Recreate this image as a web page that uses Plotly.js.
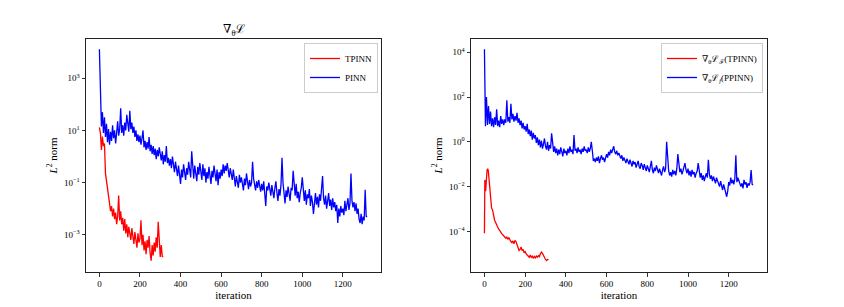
<!DOCTYPE html>
<html>
<head>
<meta charset="utf-8">
<script src="https://cdn.plot.ly/plotly-3.0.1.min.js"></script>
<style>html,body{margin:0;padding:0;background:#fff;}#chart{width:844px;height:307px;}</style>
</head>
<body>
<div id="chart"></div>
<script>
// ---------- DATA (log10 of the L2 norm) ----------
var pinnStep = 5; // iterations between samples
var pinnLeftLog10 = [
  4.11, 1.95, 1.15, 1.7, 0.9, 1.5, 0.75, 1.25, 0.55, 1.05,
  0.45, 0.95, 0.6, 1.2, 0.7, 1.0, 0.5, 0.9, 1.35, 0.8,
  1.05, 1.85, 0.9, 1.2, 0.8, 1.3, 1.0, 1.6, 1.1, 0.95,
  1.75, 1.05, 1.3, 0.9, 1.15, 0.75, 1.0, 0.6, 0.85, 0.55,
  0.8, 0.45, 0.7, 1.0, 0.35, 0.6, 0.25, 0.55, 0.3, 0.75,
  0.2, 0.45, 0.1, 0.4, 0.05, 0.3, -0.1, 0.25, 0.0, 0.35,
  0.1, -0.15, 0.2, -0.3, 0.05, -0.2, 0.4, -0.25, -0.05, -0.35,
  -0.1, -0.45, 0.0, -0.3, -0.6, -0.2, -0.5, -0.75, -0.35, -0.65,
  -1.05, -0.5, -0.8, -0.3, -0.65, -0.9, -0.45, -0.7, -0.2, -0.55,
  -0.8, 0.2, -0.5, -0.85, -0.35, -0.6, -0.95, -0.4, -0.7, -0.25,
  -0.55, -0.9, -0.3, -0.75, -0.45, -1.0, -0.6, -0.85, -0.4, -0.7,
  -1.05, -0.55, -0.8, -0.35, -0.65, -0.95, -0.5, -1.1, -0.6, -0.85,
  -0.5, -0.75, -0.3, -0.65, -0.35, -0.55, -0.25, -0.6, -0.8, -0.45,
  -0.7, -0.9, -0.5, -0.85, -1.15, -0.75, -0.95, -1.2, -0.7, -1.0,
  -0.8, -1.05, -1.3, -0.85, -1.1, -0.65, -0.95, -1.25, -0.9, -1.15,
  -1.0, -0.2, -0.85, -1.1, -1.3, -0.95, -1.2, -0.9, -1.15, -1.35,
  -1.05, -1.3, -0.95, -1.35, -1.9, -1.15, -1.3, -1.0, -1.25, -1.5,
  -1.1, -1.35, -1.6, -1.2, -0.95, -1.4, -1.7, -1.25, -1.5, -1.1,
  -0.05, -1.0, -1.45, -1.8, -1.3, -1.55, -1.15, -1.4, -1.7, -1.2,
  -1.3, -0.55, -1.25, -1.5, -1.05, -1.6, -1.35, -1.75, -1.4, -1.2,
  -0.8, -1.5, -1.7, -1.3, -1.85, -1.45, -1.6, -1.25, -1.9, -1.5,
  -1.75, -2.2, -1.6, -1.4, -1.85, -1.55, -1.95, -1.45, -1.7, -1.3,
  -0.75, -1.6, -1.85, -1.5, -2.0, -1.7, -1.4, -1.9, -1.65, -2.05,
  -1.6, -1.95, -1.75, -2.1, -1.85, -2.55, -2.0, -2.3, -1.9, -2.15,
  -2.0, -2.25, -1.7, -2.1, -1.85, -1.6, -2.05, -1.8, -0.65, -1.7,
  -1.95, -1.75, -2.1, -1.8, -2.2, -2.0, -2.4, -2.55, -2.2, -2.6,
  -2.3, -2.45, -1.28, -2.3, -2.32
];
var tpinnLeftLog10 = [
  1.12, 0.9, 0.25, 0.76, 0.4, 0.5, -0.65, -0.9, -1.15, -1.5,
  -1.8, -2.1, -1.9, -2.3, -2.0, -2.4, -2.15, -2.6, -2.3, -1.5,
  -2.45, -2.1, -2.6, -2.35, -2.85, -2.4, -2.95, -2.6, -3.1, -2.7,
  -2.9, -3.2, -2.75, -3.05, -3.35, -2.9, -3.2, -3.5, -2.95, -3.3,
  -3.15, -2.45, -3.4, -3.0, -3.6, -3.25, -3.75, -3.2, -3.5, -3.05,
  -3.7, -4.0, -3.4, -3.8, -3.3, -3.65, -3.1, -3.5, -2.5, -3.3,
  -3.85, -3.4, -3.84, -3.84
];
var ppinnRightLog10 = [
  4.13, 0.7, 2.0, 0.75, 1.6, 0.8, 1.35, 0.7, 1.05, 0.65,
  1.1, 0.75, 1.45, 0.7, 0.95, 0.65, 1.15, 0.8, 1.0, 0.75,
  1.0, 0.85, 1.85, 0.9, 1.1, 0.85, 1.7, 1.0, 1.25, 0.9,
  1.15, 0.95, 1.3, 0.85, 1.05, 0.75, 0.95, 0.6, 0.85, 0.55,
  0.7, 0.45, 0.8, 0.35, 0.55, 0.25, 0.5, 0.1, 0.4, 0.15,
  0.3, -0.05, 0.2, -0.15, 0.1, -0.25, 0.05, -0.3, -0.1, 0.15,
  -0.2, -0.35, 0.0, -0.4, -0.15, -0.3, 0.38, -0.25, -0.45, -0.2,
  -0.5, -0.3, -0.6, -0.35, -0.55, -0.25, -0.45, -0.65, -0.3, -0.5,
  -0.4, -0.6, -0.3, -0.5, -0.2, -0.45, -0.35, -0.55, 0.3, -0.4,
  -0.3, -0.5, -0.25, -0.45, -0.35, -0.55, -0.3, -0.45, -0.2, -0.4,
  -0.35, -0.5, -0.25, -0.45, -0.3, 0.0, -0.4, -0.85, -0.75, -0.9,
  -0.7, -0.85, -0.65, -0.95, -0.75, -0.6, -0.8, -0.7, -0.9, -0.65,
  -0.55, -0.7, -0.45, -0.6, -0.35, -0.5, -0.3, -0.2, -0.45, -0.55,
  -0.4, -0.6, -0.5, -0.7, -0.75, -0.6, -0.85, -0.7, -0.8, -0.95,
  -0.75, -0.9, -1.0, -0.8, -0.95, -1.1, -0.85, -1.0, -0.9, -1.15,
  -1.0, -0.85, -1.1, -1.2, -0.95, -1.05, -1.25, -1.0, -1.15, -1.3,
  -1.05, -1.2, -1.35, -1.1, -0.85, -1.25, -1.4, -1.15, -1.3, -1.05,
  -1.25, -1.4, -1.2, -1.35, -1.5, -1.25, -1.1, -1.35, -1.2, 0.0,
  -1.0, -1.3, -1.5, -1.35, -1.55, -1.25, -1.45, -1.3, -1.5, -1.2,
  -0.55, -1.15, -1.35, -1.2, -1.45, -1.3, -1.05, -0.95, -1.25, -1.4,
  -1.2, -1.5, -1.3, -1.55, -1.25, -1.45, -1.35, -1.6, -1.4, -1.3,
  -0.95, -1.45, -1.6, -1.4, -1.7, -1.5, -1.75, -1.55, -1.4, -1.6,
  -0.8, -1.45, -1.65, -1.5, -1.75, -1.55, -1.7, -1.85, -1.6, -1.75,
  -1.8, -2.0, -1.75, -1.95, -2.15, -1.9, -2.05, -2.3, -2.45, -2.2,
  -1.8, -1.95, -1.6, -1.85, -1.7, -1.9, -1.65, -0.6, -1.8, -1.6,
  -1.75, -1.9, -2.0, -1.85, -2.08, -1.7, -1.9, -1.8, -2.05, -1.85,
  -1.95, -1.8, -1.26, -1.9, -1.92
];
var tpinnRightIter = [
  0, 2, 4, 6, 8, 10,
  13, 16, 19, 22, 25, 28, 31,
  35, 40, 45, 50, 55, 60, 65, 70, 75, 80, 85, 90, 95,
  100, 105, 110, 115, 120, 125, 130, 135, 140, 145,
  150, 155, 160, 165, 170, 175, 180, 185, 190, 195,
  200, 205, 210, 215, 220, 225, 230, 235, 240, 245,
  250, 255, 260, 265, 270, 275, 280, 285, 290, 295,
  300, 305, 310, 315
];
var tpinnRightLog10 = [
  -4.08, -1.7, -1.9, -2.2, -1.8, -1.5,
  -1.25, -1.2, -1.3, -1.6, -1.9, -2.3, -2.7,
  -2.95, -3.05, -3.3, -3.5, -3.6, -3.7, -3.85, -3.9, -3.95, -4.05, -4.1, -4.15, -4.2,
  -4.22, -4.3, -4.25, -4.35, -4.28, -4.38, -4.45, -4.5, -4.42, -4.55,
  -4.4, -4.45, -4.6, -4.75, -4.85, -4.8, -4.7, -4.85, -4.8, -4.95,
  -4.9, -5.0, -5.05, -5.1, -5.15, -5.05, -5.15, -5.1, -5.2, -5.12,
  -5.18, -5.1, -5.15, -5.08, -5.12, -5.0, -4.92, -4.98, -5.1, -5.2,
  -5.25, -5.3, -5.25, -5.26
];
var xTickVals = [0, 200, 400, 600, 800, 1000, 1200];
var xTickText = ["0", "200", "400", "600", "800", "1000", "1200"];
var yLeftTickVals = [1e-3, 1e-1, 1e1, 1e3];
var yLeftTickText = ["10<sup>\u22123</sup>", "10<sup>\u22121</sup>", "10<sup>1</sup>", "10<sup>3</sup>"];
var yRightTickVals = [1e-4, 1e-2, 1e0, 1e2, 1e4];
var yRightTickText = ["10<sup>\u22124</sup>", "10<sup>\u22122</sup>", "10<sup>0</sup>", "10<sup>2</sup>", "10<sup>4</sup>"];
var leftNames = ["TPINN", "PINN"];
var rightNames = ["\u2207<sub>\u03b8</sub>\u2112<sub>\u2131</sub>(TPINN)", "\u2207<sub>\u03b8</sub>\u2112<sub><i>f</i></sub>(PPINN)"];
var leftTitle = "\u2207<sub>\u03b8</sub>\u2112";

// ---------- helpers ----------
function iters(arr, step) { return arr.map(function (_, i) { return i * step; }); }
function fromLog(arr) { return arr.map(function (v) { return Math.pow(10, v); }); }

var FONT = "Liberation Serif, DejaVu Serif, serif";
var RED = "rgb(255,0,0)", BLUE = "rgb(0,0,255)";
var LW = 1.3;

var traces = [
  { x: iters(tpinnLeftLog10, pinnStep), y: fromLog(tpinnLeftLog10), type: "scatter", mode: "lines",
    name: leftNames[0], line: { color: RED, width: LW }, xaxis: "x", yaxis: "y", legend: "legend" },
  { x: iters(pinnLeftLog10, pinnStep), y: fromLog(pinnLeftLog10), type: "scatter", mode: "lines",
    name: leftNames[1], line: { color: BLUE, width: LW }, xaxis: "x", yaxis: "y", legend: "legend" },
  { x: tpinnRightIter, y: fromLog(tpinnRightLog10), type: "scatter", mode: "lines",
    name: rightNames[0], line: { color: RED, width: LW }, xaxis: "x2", yaxis: "y2", legend: "legend2" },
  { x: iters(ppinnRightLog10, pinnStep), y: fromLog(ppinnRightLog10), type: "scatter", mode: "lines",
    name: rightNames[1], line: { color: BLUE, width: LW }, xaxis: "x2", yaxis: "y2", legend: "legend2" }
];

function xAxis(domain, anchor) {
  return {
    domain: domain, anchor: anchor, range: [-66, 1388], tickvals: xTickVals, ticktext: xTickText,
    ticks: "outside", ticklen: 3.5, tickwidth: 0.8, tickcolor: "#000",
    showline: true, linecolor: "#222", linewidth: 1, mirror: true, showgrid: false, zeroline: false,
    tickfont: { family: FONT, size: 9, color: "#000" },
    title: { text: "iteration", font: { family: FONT, size: 11, color: "#000" }, standoff: 2 }
  };
}
function yAxis(domain, anchor, range, tv, tt) {
  return {
    domain: domain, anchor: anchor, type: "log", range: range, tickvals: tv, ticktext: tt,
    ticks: "outside", ticklen: 3.5, tickwidth: 0.8, tickcolor: "#000",
    showline: true, linecolor: "#222", linewidth: 1, mirror: true, showgrid: false, zeroline: false,
    tickfont: { family: FONT, size: 9, color: "#000" },
    title: { text: "<i>L</i><sup>2</sup> norm", font: { family: FONT, size: 11, color: "#000" }, standoff: 4 }
  };
}

var yDom = [1 - 272 / 307, 1 - 39 / 307];
var legendCommon = {
  xanchor: "right", yanchor: "top",
  bgcolor: "rgba(255,255,255,0.8)", bordercolor: "#ccc", borderwidth: 1,
  font: { family: FONT, size: 9, color: "#000" }, itemwidth: 30, tracegroupgap: 0
};
var layout = {
  width: 844, height: 307,
  margin: { l: 0, r: 0, t: 0, b: 0 },
  paper_bgcolor: "#fff", plot_bgcolor: "#fff",
  font: { family: FONT, color: "#000" },
  xaxis: xAxis([86 / 844, 381 / 844], "y"),
  yaxis: yAxis(yDom, "x", [-4.43, 4.506], yLeftTickVals, yLeftTickText),
  xaxis2: xAxis([471 / 844, 767 / 844], "y2"),
  yaxis2: yAxis(yDom, "x2", [-5.81, 4.59], yRightTickVals, yRightTickText),
  legend: Object.assign({ x: 378 / 844, y: 1 - 43 / 307 }, legendCommon),
  legend2: Object.assign({ x: 763 / 844, y: 1 - 43 / 307 }, legendCommon),
  showlegend: true,
  annotations: [
    { text: leftTitle, xref: "paper", yref: "paper", x: (86 + 381) / 2 / 844, y: 1 - 30 / 307,
      xanchor: "center", yanchor: "middle", showarrow: false, font: { family: FONT, size: 12, color: "#000" } }
  ]
};

Plotly.newPlot("chart", traces, layout, { displayModeBar: false, staticPlot: true });
</script>
</body>
</html>
